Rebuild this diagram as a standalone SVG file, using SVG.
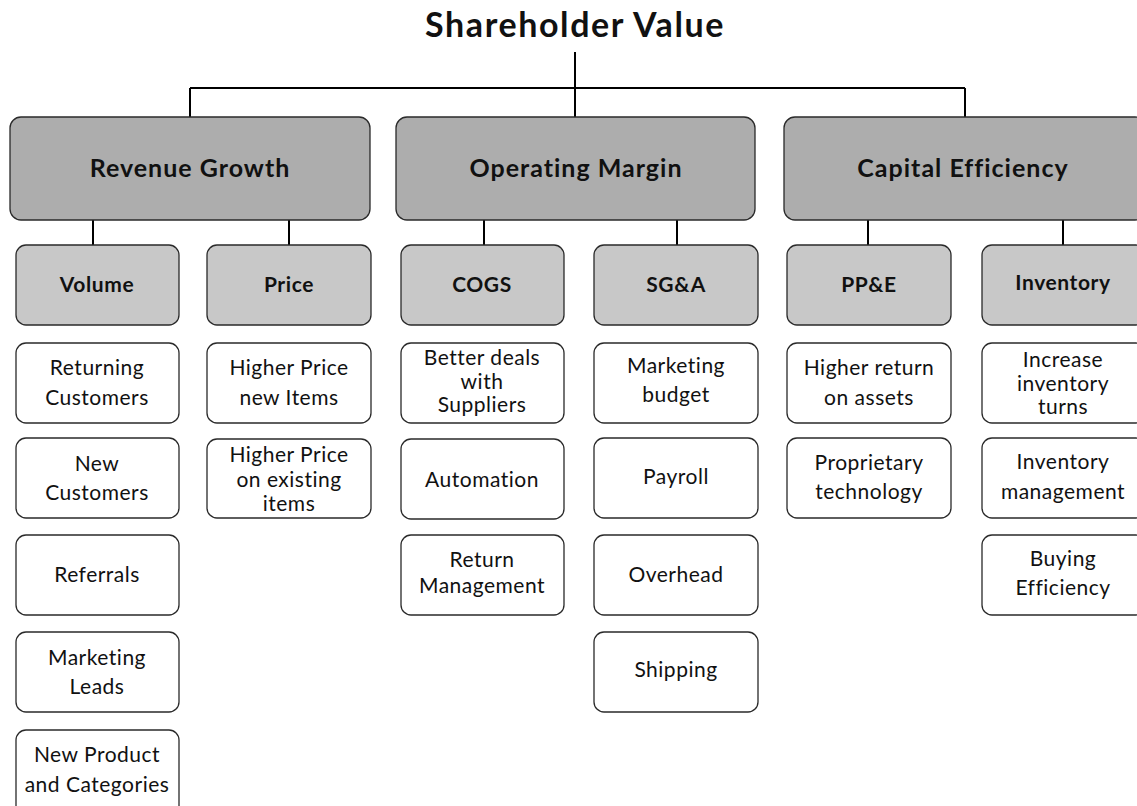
<svg xmlns="http://www.w3.org/2000/svg" width="1137" height="806" viewBox="0 0 1137 806">
<style>
text{font-family:Lato,"Open Sans","Liberation Sans",sans-serif;fill:#111;text-anchor:middle}
.title{font-size:34px;font-weight:bold;letter-spacing:1.6px}
.top rect{fill:#adadad;stroke:#2a2a2a;stroke-width:1.3}
.top text{font-size:25px;font-weight:bold;letter-spacing:1px}
.sub rect{fill:#c8c8c8;stroke:#2a2a2a;stroke-width:1.3}
.sub text{font-size:21px;font-weight:bold;letter-spacing:0.6px}
.leaf rect{fill:#fff;stroke:#2a2a2a;stroke-width:1.3}
.leaf text{font-size:21px;letter-spacing:0.5px}
.conn path{fill:none;stroke:#000;stroke-width:2}
</style>
<rect width="1137" height="806" fill="#fff"/>
<text id="title" class="title" x="575" y="37">Shareholder Value</text>
<g class="conn">
<path d="M575 52V88M190 88H965M190 88V117M575 88V117M965 88V117"/>
<path d="M93 220V245M289 220V245M484 220V245M677 220V245M868 220V245M1063 220V245"/>
</g>
<g id="revenue" class="top"><rect x="10" y="117" width="360" height="103" rx="11"/><text x="190" y="177">Revenue Growth</text></g>
<g id="operating" class="top"><rect x="396" y="117" width="359" height="103" rx="11"/><text x="576" y="177">Operating Margin</text></g>
<g id="capital" class="top"><rect x="784" y="117" width="362" height="103" rx="11"/><text x="963" y="177">Capital Efficiency</text></g>

<g id="volume" class="sub"><rect x="16" y="245" width="163" height="80" rx="10"/><text x="97" y="292">Volume</text></g>
<g id="price" class="sub"><rect x="207" y="245" width="164" height="80" rx="10"/><text x="289" y="292">Price</text></g>
<g id="cogs" class="sub"><rect x="401" y="245" width="163" height="80" rx="10"/><text x="482" y="292">COGS</text></g>
<g id="sga" class="sub"><rect x="594" y="245" width="164" height="80" rx="10"/><text x="676" y="292">SG&amp;A</text></g>
<g id="ppe" class="sub"><rect x="787" y="245" width="164" height="80" rx="10"/><text x="869" y="292">PP&amp;E</text></g>
<g id="inventory" class="sub"><rect x="982" y="245" width="164" height="80" rx="10"/><text x="1063" y="290">Inventory</text></g>

<g id="returning" class="leaf"><rect x="16" y="343" width="163" height="80" rx="10"/><text x="97" y="375">Returning</text><text x="97" y="405">Customers</text></g>
<g id="newcust" class="leaf"><rect x="16" y="438" width="163" height="80" rx="10"/><text x="97" y="471">New</text><text x="97" y="500">Customers</text></g>
<g id="referrals" class="leaf"><rect x="16" y="535" width="163" height="80" rx="10"/><text x="97" y="582">Referrals</text></g>
<g id="mktleads" class="leaf"><rect x="16" y="632" width="163" height="80" rx="10"/><text x="97" y="665">Marketing</text><text x="97" y="694">Leads</text></g>
<g id="newprod" class="leaf"><rect x="16" y="730" width="163" height="90" rx="10"/><text x="97" y="762">New Product</text><text x="97" y="792">and Categories</text></g>

<g id="hpnew" class="leaf"><rect x="207" y="343" width="164" height="80" rx="10"/><text x="289" y="375">Higher Price</text><text x="289" y="405">new Items</text></g>
<g id="hpexist" class="leaf"><rect x="207" y="439" width="164" height="79" rx="10"/><text x="289" y="462">Higher Price</text><text x="289" y="487">on existing</text><text x="289" y="511">items</text></g>

<g id="better" class="leaf"><rect x="401" y="343" width="163" height="80" rx="10"/><text x="482" y="365">Better deals</text><text x="482" y="389">with</text><text x="482" y="412">Suppliers</text></g>
<g id="automation" class="leaf"><rect x="401" y="439" width="163" height="80" rx="10"/><text x="482" y="487">Automation</text></g>
<g id="retmgmt" class="leaf"><rect x="401" y="535" width="163" height="80" rx="10"/><text x="482" y="567">Return</text><text x="482" y="593">Management</text></g>

<g id="mktbudget" class="leaf"><rect x="594" y="343" width="164" height="80" rx="10"/><text x="676" y="373">Marketing</text><text x="676" y="402">budget</text></g>
<g id="payroll" class="leaf"><rect x="594" y="438" width="164" height="80" rx="10"/><text x="676" y="484">Payroll</text></g>
<g id="overhead" class="leaf"><rect x="594" y="535" width="164" height="80" rx="10"/><text x="676" y="582">Overhead</text></g>
<g id="shipping" class="leaf"><rect x="594" y="632" width="164" height="80" rx="10"/><text x="676" y="677">Shipping</text></g>

<g id="hreturn" class="leaf"><rect x="787" y="343" width="164" height="80" rx="10"/><text x="869" y="375">Higher return</text><text x="869" y="405">on assets</text></g>
<g id="proprietary" class="leaf"><rect x="787" y="438" width="164" height="80" rx="10"/><text x="869" y="470">Proprietary</text><text x="869" y="499">technology</text></g>

<g id="turns" class="leaf"><rect x="982" y="343" width="164" height="80" rx="10"/><text x="1063" y="367">Increase</text><text x="1063" y="391">inventory</text><text x="1063" y="414">turns</text></g>
<g id="invmgmt" class="leaf"><rect x="982" y="438" width="164" height="80" rx="10"/><text x="1063" y="469">Inventory</text><text x="1063" y="499">management</text></g>
<g id="buying" class="leaf"><rect x="982" y="535" width="164" height="80" rx="10"/><text x="1063" y="566">Buying</text><text x="1063" y="595">Efficiency</text></g>
</svg>
